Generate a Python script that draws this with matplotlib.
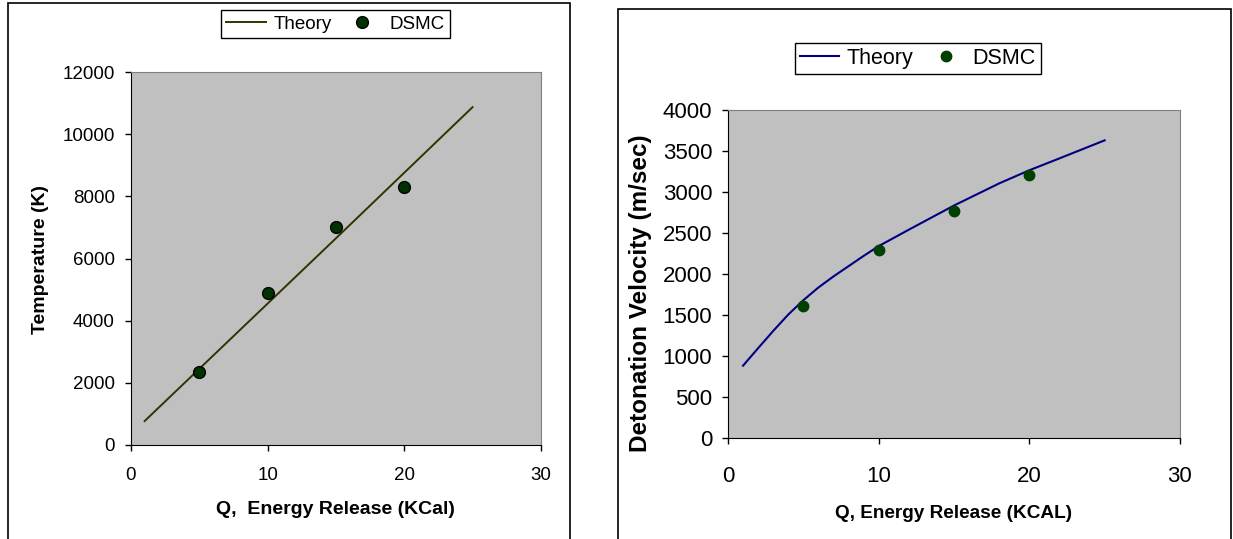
import matplotlib.pyplot as plt
from matplotlib.patches import Rectangle

plt.rcParams['font.family'] = ['Liberation Sans', 'DejaVu Sans']

# 左图：温度
q_temp_theory = [1, 5, 10, 15, 20, 25]
temp_theory = [770, 2450, 4550, 6650, 8760, 10870]
q_dsmc = [5, 10, 15, 20]
temp_dsmc = [2345, 4890, 7000, 8295]

# 右图：爆轰速度
q_vel_theory = [1, 2, 3, 4, 5, 6, 7, 8, 9, 10, 12, 15, 18, 20, 22, 25]
vel_theory = [882, 1095, 1305, 1505, 1680, 1835, 1970, 2095, 2220, 2340, 2540, 2835, 3105, 3265, 3410, 3630]
vel_dsmc = [1615, 2295, 2765, 3205]

temp_ticks = [0, 2000, 4000, 6000, 8000, 10000, 12000]
vel_ticks = [0, 500, 1000, 1500, 2000, 2500, 3000, 3500, 4000]
q_ticks = [0, 10, 20, 30]

fig = plt.figure(figsize=(12.33, 5.39), dpi=100)

# 两个外框
fig.patches.append(Rectangle((0.00625, -0.05), 0.456, 1.0437, transform=fig.transFigure,
                             fill=False, edgecolor='black', linewidth=1.2))
fig.patches.append(Rectangle((0.5012, -0.05), 0.4972, 1.034, transform=fig.transFigure,
                             fill=False, edgecolor='black', linewidth=1.2))


def style_axes(ax, fs, xpad, ypad):
    ax.set_facecolor('#C0C0C0')
    for s in ['top', 'right']:
        ax.spines[s].set_color('#808080')
    for s in ['left', 'bottom']:
        ax.spines[s].set_color('black')
    ax.tick_params(axis='both', direction='out', length=4.5, width=1, labelsize=fs, color='black')
    ax.tick_params(axis='x', pad=xpad)
    ax.tick_params(axis='y', pad=ypad)


# 左图
ax1 = fig.add_axes([0.1062, 0.1744, 0.3325, 0.692])
style_axes(ax1, 13.5, 11, 7)
ax1.plot(q_temp_theory, temp_theory, color='#333300', linewidth=1.4, label='Theory')
ax1.plot(q_dsmc, temp_dsmc, 'o', markersize=8.5, markerfacecolor='#003300',
         markeredgecolor='black', markeredgewidth=1, label='DSMC')
ax1.set_xlim(0, 30)
ax1.set_ylim(0, 12000)
ax1.set_xticks(q_ticks)
ax1.set_yticks(temp_ticks)
ax1.set_xlabel('Q,  Energy Release (KCal)', fontsize=14, fontweight='bold')
ax1.set_ylabel('Temperature (K)', fontsize=14, fontweight='bold')
ax1.xaxis.set_label_coords(0.4976, -0.1716)
ax1.xaxis.label.set_va('center')
ax1.yaxis.set_label_coords(-0.2205, 0.4973)
ax1.yaxis.label.set_va('center')
fig.legend(handles=ax1.get_lines(), loc='center', bbox_to_anchor=(0.2721, 0.9555), ncol=2,
           fontsize=13.5, frameon=True, fancybox=False, edgecolor='black', framealpha=1,
           handlelength=2.1, handletextpad=0.4, columnspacing=0.6, borderpad=0.3,
           borderaxespad=0).get_frame().set_linewidth(1)

# 右图
ax2 = fig.add_axes([0.5904, 0.1874, 0.3666, 0.6085])
style_axes(ax2, 16, 16, 6.8)
ax2.plot(q_vel_theory, vel_theory, color='#000080', linewidth=1.5, label='Theory')
ax2.plot(q_dsmc, vel_dsmc, 'o', markersize=7.5, markerfacecolor='#004000',
         markeredgecolor='#004000', label='DSMC')
ax2.set_xlim(0, 30)
ax2.set_ylim(0, 4000)
ax2.set_xticks(q_ticks)
ax2.set_yticks(vel_ticks)
ax2.set_xlabel('Q, Energy Release (KCAL)', fontsize=13.7, fontweight='bold')
ax2.set_ylabel('Detonation Velocity (m/sec)', fontsize=17.5, fontweight='bold')
ax2.xaxis.set_label_coords(0.5, -0.2317)
ax2.xaxis.label.set_va('center')
ax2.yaxis.set_label_coords(-0.1925, 0.442)
ax2.yaxis.label.set_va('center')
fig.legend(handles=ax2.get_lines(), loc='center', bbox_to_anchor=(0.7445, 0.8915), ncol=2,
           fontsize=15.5, frameon=True, fancybox=False, edgecolor='black', framealpha=1,
           handlelength=1.8, handletextpad=0.35, columnspacing=0.6, borderpad=0.25,
           borderaxespad=0).get_frame().set_linewidth(1)

fig.savefig('out.png', dpi=100)
